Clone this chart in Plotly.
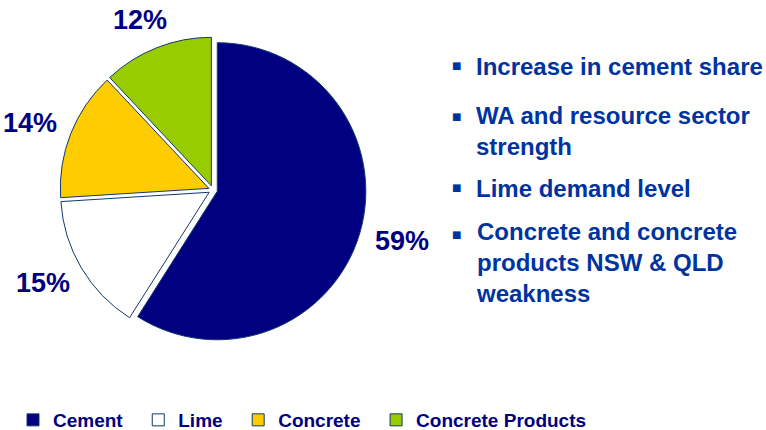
import math
import plotly.graph_objects as go

categories = ["Cement", "Lime", "Concrete", "Concrete Products"]
shares = [59, 15, 14, 12]
colors = ["#000080", "#FFFFFF", "#FFCC00", "#99CC00"]
bullets = [
    "Increase in cement share",
    "WA and resource sector<br>strength",
    "Lime demand level",
    "Concrete and concrete<br>products NSW & QLD<br>weakness",
]
bullet_y_px = [66, 131, 188, 262.5]
bullet_first_line_px = [65.5, 116.5, 187.5, 234.5]

W, H = 766, 430
FONT = "Liberation Sans, Arial, sans-serif"

# pie geometry (pixels)
CX, CY, HALF = 213, 190, 153
PULL = 0.03
R = HALF / (1 + PULL)
LABEL_D = R + 21          # distance of the label box edge from the centre
LABEL_W, LABEL_H = 55, 26  # approximate label box size

fig = go.Figure()
fig.add_trace(go.Pie(
    labels=[c + "\u00a0\u00a0" for c in categories],
    values=shares,
    sort=False,
    direction="clockwise",
    rotation=0,
    pull=[PULL] * len(shares),
    marker=dict(colors=colors, line=dict(color="#12386B", width=1)),
    textinfo="none",
    domain=dict(x=[(CX - HALF) / W, (CX + HALF) / W],
                y=[1 - (CY + HALF) / H, 1 - (CY - HALF) / H]),
    hoverinfo="label+percent",
))

annotations = []
# percent labels, placed outside each slice along its bisector
total = sum(shares)
cum = 0
for v in shares:
    mid = (cum + v / 2) / total * 2 * math.pi
    cum += v
    ux, uy = math.sin(mid), -math.cos(mid)
    xp = CX + LABEL_D * ux + ux * LABEL_W / 2
    yp = CY + LABEL_D * uy + uy * LABEL_H / 2
    annotations.append(dict(
        x=xp / W, y=1 - yp / H, xref="paper", yref="paper",
        xanchor="center", yanchor="middle", showarrow=False,
        text=f"{v}%",
        font=dict(family=FONT, size=27, color="#000080", weight="bold"),
    ))

for txt, yc, y1 in zip(bullets, bullet_y_px, bullet_first_line_px):
    annotations.append(dict(
        x=474 / W, y=1 - yc / H, xref="paper", yref="paper",
        xanchor="left", yanchor="middle", align="left", showarrow=False,
        text=txt,
        font=dict(family=FONT, size=24, color="#0033A0", weight="bold"),
    ))
    annotations.append(dict(
        x=456 / W, y=1 - y1 / H, xref="paper", yref="paper",
        xanchor="center", yanchor="middle", showarrow=False,
        text="■",
        font=dict(family="DejaVu Sans", size=10, color="#0033A0"),
    ))

fig.update_layout(
    width=W, height=H,
    margin=dict(l=0, r=0, t=0, b=0, autoexpand=False),
    paper_bgcolor="white", plot_bgcolor="white",
    showlegend=True,
    legend=dict(
        orientation="h", x=13 / W, xanchor="left",
        y=1 - 420 / H, yanchor="middle",
        font=dict(family=FONT, size=19, color="#000080", weight="bold"),
        itemclick=False, itemdoubleclick=False,
    ),
    annotations=annotations,
)

fig.write_html("out.html")
